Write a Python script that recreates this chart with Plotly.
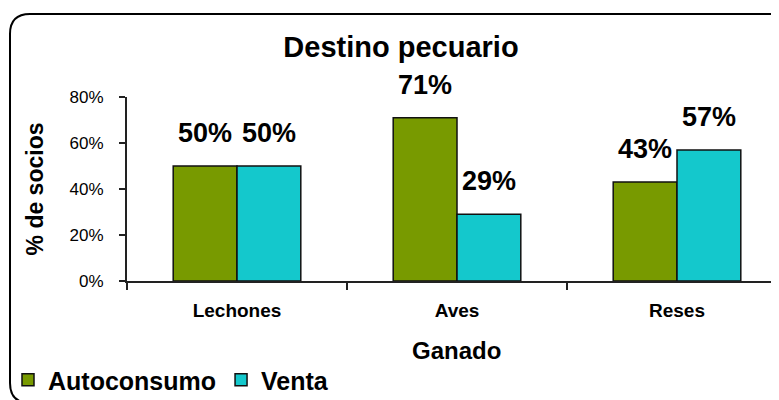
import plotly.graph_objects as go

# ---- data ----
categories = ["Lechones", "Aves", "Reses"]
autoconsumo = [50, 71, 43]
venta = [50, 29, 57]
y_tick_vals = [0, 20, 40, 60, 80]
y_tick_text = ["0%", "20%", "40%", "60%", "80%"]
title_text = "Destino pecuario"
x_title = "Ganado"
y_title = "% de socios"

# ---- layout geometry (screen pixels; page body has an 8px margin) ----
OFF = 8
W, H = 779 - OFF, 400 - OFF
PL, PT, PB = 127 - OFF, 97 - OFF, 281 - OFF
PR = W
CAT_W = 220  # px per category
BARGAP = 0.42
FONT = "Liberation Sans, Arial, sans-serif"


def px_x(px):
    return (px - OFF - PL) / (PR - PL)


def px_y(py):
    return (PB - (py - OFF)) / (PB - PT)


fig = go.Figure()
fig.add_trace(go.Bar(
    name="Autoconsumo", x=categories, y=autoconsumo,
    marker=dict(color="#789a00", line=dict(color="#111111", width=1.5)),
))
fig.add_trace(go.Bar(
    name="Venta", x=categories, y=venta,
    marker=dict(color="#14c8cc", line=dict(color="#111111", width=1.5)),
))

off = (1 - BARGAP) / 4
annotations = []
for series, sign in ((autoconsumo, -1), (venta, 1)):
    for i, v in enumerate(series):
        annotations.append(dict(
            x=i + sign * off, y=v, xref="x", yref="y",
            text=f"{v}%", showarrow=False, yshift=33,
            font=dict(family=FONT, size=27, color="black", weight="bold"),
        ))

# x-axis title
annotations.append(dict(
    x=px_x(456), y=px_y(350), xref="paper", yref="paper",
    xanchor="center", yanchor="middle", text=x_title, showarrow=False,
    font=dict(family=FONT, size=24, color="black", weight="bold"),
))

# rounded chart border (screen px)
x0, x1, y0, y1, r = 10, 790, 14, 403, 20
path = (
    f"M {px_x(x0)},{px_y(y0 + r)} "
    f"Q {px_x(x0)},{px_y(y0)} {px_x(x0 + r)},{px_y(y0)} "
    f"L {px_x(x1 - r)},{px_y(y0)} "
    f"Q {px_x(x1)},{px_y(y0)} {px_x(x1)},{px_y(y0 + r)} "
    f"L {px_x(x1)},{px_y(y1 - r)} "
    f"Q {px_x(x1)},{px_y(y1)} {px_x(x1 - r)},{px_y(y1)} "
    f"L {px_x(x0 + r)},{px_y(y1)} "
    f"Q {px_x(x0)},{px_y(y1)} {px_x(x0)},{px_y(y1 - r)} Z"
)

x_end = (PR - PL) / CAT_W - 0.5

fig.update_layout(
    width=W, height=H,
    margin=dict(l=PL, r=0, t=PT, b=H - PB, pad=0, autoexpand=False),
    paper_bgcolor="white", plot_bgcolor="white",
    barmode="group", bargap=BARGAP, bargroupgap=0,
    font=dict(family=FONT, color="black"),
    title=dict(
        text=title_text, x=(401 - OFF) / W, xref="container", xanchor="center",
        y=1 - (47 - OFF) / H, yref="container", yanchor="middle",
        font=dict(family=FONT, size=29, color="black", weight="bold"),
    ),
    xaxis=dict(
        type="category", range=[-0.5, x_end], automargin=False,
        tickson="boundaries", ticks="outside", ticklen=7, tickwidth=1.5,
        tickcolor="#222222", showline=True, linecolor="#222222", linewidth=2,
        showgrid=False, zeroline=False, ticklabelstandoff=11,
        tickfont=dict(family=FONT, size=19, color="black", weight="bold"),
    ),
    yaxis=dict(
        range=[0, 80], tickvals=y_tick_vals, ticktext=y_tick_text, automargin=False,
        ticks="outside", ticklen=6, tickwidth=1.5, tickcolor="#222222",
        showline=True, linecolor="#222222", linewidth=2,
        showgrid=False, zeroline=False, ticklabelstandoff=12,
        tickfont=dict(family=FONT, size=17, color="black"),
        title=dict(text=y_title, standoff=20,
                   font=dict(family=FONT, size=23, color="black", weight="bold")),
    ),
    legend=dict(
        orientation="h", x=0, xref="container", xanchor="left",
        y=1 - (380 - OFF) / H, yref="container", yanchor="middle",
        font=dict(family=FONT, size=25, color="black", weight="bold"),
        bgcolor="rgba(0,0,0,0)", itemwidth=30, tracegroupgap=0,
    ),
    annotations=annotations,
    shapes=[dict(type="path", path=path, xref="paper", yref="paper",
                 line=dict(color="black", width=2), layer="above")],
)

fig.write_html("out.html")
